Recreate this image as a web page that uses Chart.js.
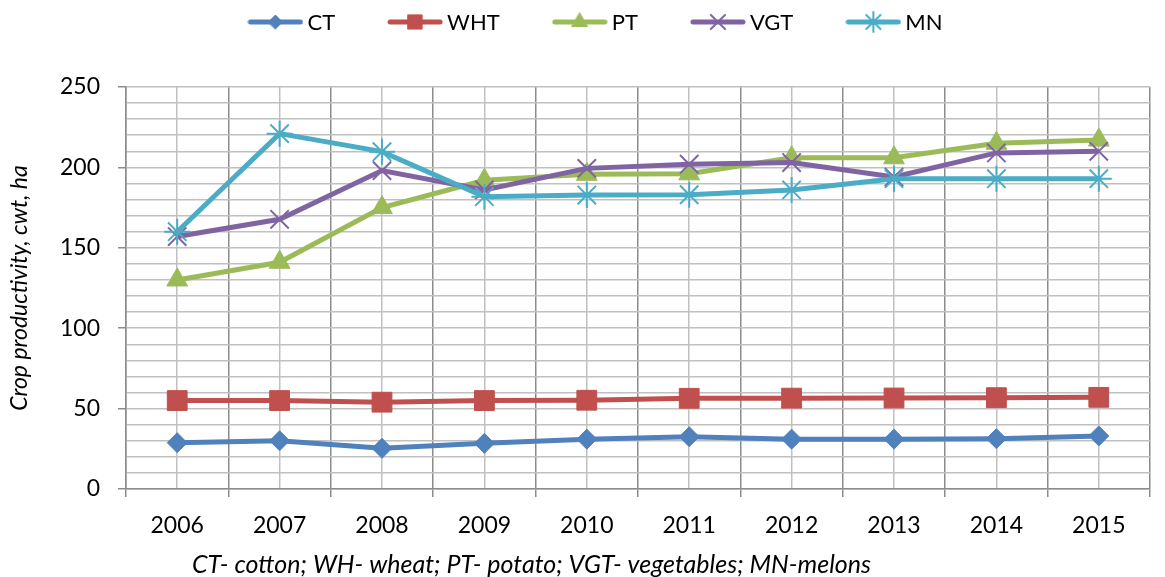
<!DOCTYPE html>
<html>
<head>
<meta charset="utf-8">
<script src="https://cdn.jsdelivr.net/npm/chart.js@4/dist/chart.umd.min.js"></script>
<style>
    html, body { margin: 0; padding: 0; background: #fff; }
    #wrap { width: 1165px; height: 577px; position: relative; }
</style>
</head>
<body>
<div id="wrap"><canvas id="chart"></canvas></div>
<script>
const YEARS = ['2006', '2007', '2008', '2009', '2010', '2011', '2012', '2013', '2014', '2015'];

const CT  = [28.8, 30, 25.3, 28.4, 31, 32.5, 31, 31, 31.3, 33];
const WHT = [55, 55, 54, 55, 55.2, 56.4, 56.5, 56.6, 56.8, 57];
const PT  = [130, 141, 175, 192, 195.7, 196, 206, 206, 215, 217];
const VGT = [157, 167.7, 198, 186, 199.4, 202, 203, 194, 209, 210];
const MN  = [160, 221, 209.8, 181.8, 182.8, 183, 186, 193, 193, 193];

const SERIES_NAMES = ['CT', 'WHT', 'PT', 'VGT', 'MN'];
const CAPTION = 'CT- cotton; WH- wheat; PT- potato; VGT- vegetables; MN-melons';
const Y_TITLE = 'Crop productivity, cwt, ha';

const FONT = 'Lato, "Open Sans", sans-serif';
const GRID_LIGHT = '#c0c0c0';
const GRID_DARK = '#8c8c8c';

const STYLES = [
    { color: '#4f81bd', point: 'rectRot',  radius: 10,  legendRadius: 7,  bw: 1 },
    { color: '#c0504d', point: 'rect',     radius: 14,  legendRadius: 10, bw: 1 },
    { color: '#9bbb59', point: 'triangle', radius: 12,  legendRadius: 9,  bw: 1 },
    { color: '#8064a2', point: 'crossRot', radius: 13,  legendRadius: 10, bw: 2 },
    { color: '#4bacc6', point: 'star',     radius: 13,  legendRadius: 10, bw: 2 },
];

// legend swatch: line with the marker in the middle
function legendIcon(st) {
    const c = document.createElement('canvas');
    c.width = 56; c.height = 24;
    const ctx = c.getContext('2d');
    ctx.strokeStyle = st.color;
    ctx.fillStyle = st.color;
    ctx.lineWidth = 5;
    ctx.lineCap = 'round';
    ctx.beginPath();
    ctx.moveTo(3, 12); ctx.lineTo(53, 12);
    ctx.stroke();
    ctx.lineWidth = st.bw;
    Chart.helpers.drawPoint(ctx, { pointStyle: st.point, radius: st.legendRadius, rotation: 0, borderWidth: st.bw }, 28, 12);
    return c;
}

const seriesData = [CT, WHT, PT, VGT, MN];
const datasets = seriesData.map((d, i) => ({
    label: SERIES_NAMES[i],
    data: d,
    borderColor: STYLES[i].color,
    backgroundColor: STYLES[i].color,
    borderWidth: 5,
    tension: 0,
    pointStyle: STYLES[i].point,
    pointRadius: STYLES[i].radius,
    pointHoverRadius: STYLES[i].radius,
    pointBackgroundColor: STYLES[i].color,
    pointBorderColor: STYLES[i].color,
    pointBorderWidth: STYLES[i].bw,
    order: seriesData.length - i,
}));

const icons = STYLES.map(legendIcon);

// legend on top (line + marker swatch), then caption under the axis
const legendPlugin = {
    id: 'lineLegend',
    afterDraw(chart) {
        const ctx = chart.ctx;
        ctx.save();
        ctx.font = '22px ' + FONT;
        ctx.fillStyle = '#000';
        ctx.textBaseline = 'middle';
        ctx.textAlign = 'left';
        const gapIcon = 4, gapItem = 52, iconW = 56;
        const widths = SERIES_NAMES.map(n => iconW + gapIcon + ctx.measureText(n).width);
        const total = widths.reduce((a, b) => a + b, 0) + gapItem * (widths.length - 1);
        let x = 595 - total / 2;
        const y = 22;
        SERIES_NAMES.forEach((n, i) => {
            ctx.drawImage(icons[i], x, y - 12);
            ctx.fillText(n, x + iconW + gapIcon, y + 1);
            x += widths[i] + gapItem;
        });

        ctx.font = 'italic 25px ' + FONT;
        ctx.fillText(CAPTION, 192, 565);
        ctx.restore();
    },
};

new Chart(document.getElementById('chart'), {
    type: 'line',
    data: { labels: YEARS, datasets },
    options: {
        responsive: true,
        maintainAspectRatio: false,
        animation: false,
        layout: { padding: { top: 87, left: 0, right: 0, bottom: 0 } },
        plugins: {
            tooltip: { enabled: false },
            legend: { display: false },
        },
        scales: {
            x: {
                type: 'category',
                offset: true,
                grid: { offset: true, color: GRID_DARK, lineWidth: 1.5, tickLength: 8, tickColor: GRID_DARK },
                border: { color: GRID_DARK, width: 1.5 },
                ticks: { color: '#000', font: { family: FONT, size: 23 }, padding: 15, maxRotation: 0, autoSkip: false },
                afterFit: s => { s.height = 88; },
            },
            x2: {
                type: 'category',
                axis: 'x',
                position: 'top',
                offset: true,
                grid: { offset: false, color: GRID_LIGHT, lineWidth: 1.5, drawTicks: false },
                border: { display: false },
                ticks: { display: false },
                afterFit: s => { s.height = 0; },
            },
            y: {
                min: 0,
                max: 250,
                grid: {
                    color: GRID_LIGHT,
                    lineWidth: 1.5,
                    tickLength: 8,
                    tickColor: c => (c.tick && c.tick.value % 50 === 0) ? GRID_DARK : 'rgba(0,0,0,0)',
                },
                border: { color: GRID_DARK, width: 1.5 },
                ticks: {
                    stepSize: 10,
                    autoSkip: false,
                    color: '#000',
                    font: { family: FONT, size: 23 },
                    padding: 18,
                    callback: v => (v % 50 === 0 ? v : ''),
                },
                title: {
                    display: true,
                    text: Y_TITLE,
                    color: '#000',
                    font: { family: FONT, size: 23, style: 'italic' },
                    padding: { top: 6, bottom: 0 },
                },
                afterFit: s => { s.width = 126; },
            },
        },
    },
    plugins: [legendPlugin],
});
</script>
</body>
</html>
